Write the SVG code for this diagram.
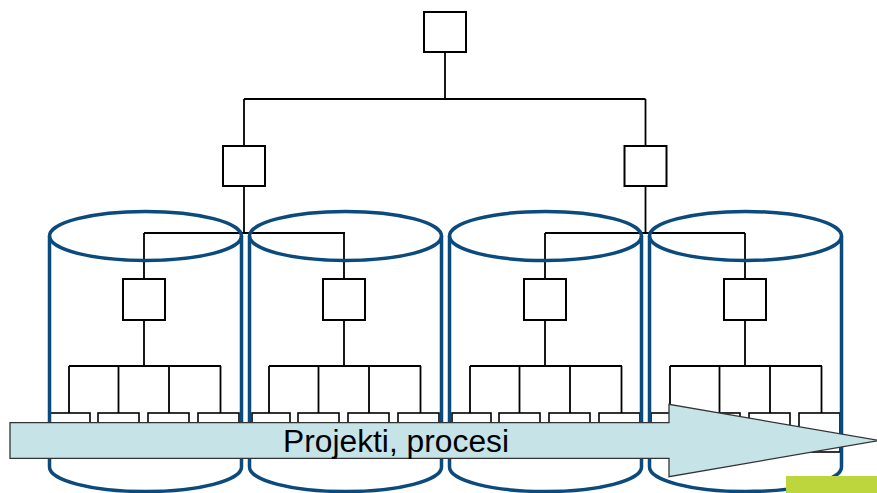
<svg xmlns="http://www.w3.org/2000/svg" width="877" height="493" viewBox="0 0 877 493">
<style>
.box{fill:#fff;stroke:#000;stroke-width:2}
.cb{fill:#fff;stroke:#000;stroke-width:1.6}
.cyl{fill:none;stroke:#0b4a7d;stroke-width:3.5}
.ln{fill:none;stroke:#000;stroke-width:1.8}
.arrow{fill:#c6e4e8;stroke:#333;stroke-width:1.3}
.lbl{font-family:"Liberation Sans",Arial,sans-serif;font-size:31px;fill:#000}
</style>
<rect width="877" height="493" fill="#fff"/>
<g id="connectors" class="ln">
<path d="M445,52V99M244,99H645.5M244,99V146M645.5,99V146M244,186V233M645.5,186V233M144,233H345M545,233H745"/>
<g id="c0"><path d="M144,233V279M144,320V366M69,366H221M69,366V413M118.5,366V413M169,366V413M220.5,366V413"/></g>
<g id="c1" transform="translate(200,0)"><path d="M144,233V279M144,320V366M69,366H221M69,366V413M118.5,366V413M169,366V413M220.5,366V413"/></g>
<g id="c2" transform="translate(401,0)"><path d="M144,233V279M144,320V366M69,366H221M69,366V413M118.5,366V413M169,366V413M220.5,366V413"/></g>
<g id="c3" transform="translate(601,0)"><path d="M144,233V279M144,320V366M69,366H221M69,366V413M118.5,366V413M169,366V413M220.5,366V413"/></g>
</g>
<g id="top"><rect class="box" x="424" y="12" width="42" height="40"/></g>
<g id="mid-left"><rect class="box" x="223" y="146" width="42" height="40"/></g>
<g id="mid-right"><rect class="box" x="624.5" y="146" width="42" height="40"/></g>
<g id="unit1">
<rect class="box" x="123" y="279" width="42" height="41"/>
<rect class="cb" x="50" y="413" width="40" height="39"/><rect class="cb" x="98" y="413" width="41" height="39"/><rect class="cb" x="148" y="413" width="41" height="39"/><rect class="cb" x="198" y="413" width="41" height="39"/>
</g>
<g id="unit2" transform="translate(200,0)">
<rect class="box" x="123" y="279" width="42" height="41"/>
<rect class="cb" x="52" y="413" width="38" height="39"/><rect class="cb" x="98" y="413" width="41" height="39"/><rect class="cb" x="148" y="413" width="41" height="39"/><rect class="cb" x="198" y="413" width="41" height="39"/>
</g>
<g id="unit3" transform="translate(401,0)">
<rect class="box" x="123" y="279" width="42" height="41"/>
<rect class="cb" x="51" y="413" width="39" height="39"/><rect class="cb" x="98" y="413" width="41" height="39"/><rect class="cb" x="148" y="413" width="41" height="39"/><rect class="cb" x="198" y="413" width="41" height="39"/>
</g>
<g id="unit4" transform="translate(601,0)">
<rect class="box" x="123" y="279" width="42" height="41"/>
<rect class="cb" x="50" y="413" width="40" height="39"/><rect class="cb" x="98" y="413" width="41" height="39"/><rect class="cb" x="148" y="413" width="41" height="39"/><rect class="cb" x="198" y="413" width="41" height="39"/>
</g>
<g id="cylinder1"><ellipse class="cyl" cx="145.5" cy="236" rx="96" ry="24.5"/><path class="cyl" d="M49.5,236V467A96,24.5 0 0 0 241.5,467V236"/></g>
<g id="cylinder2"><ellipse class="cyl" cx="345.5" cy="236" rx="96" ry="24.5"/><path class="cyl" d="M249.5,236V467A96,24.5 0 0 0 441.5,467V236"/></g>
<g id="cylinder3"><ellipse class="cyl" cx="545.5" cy="236" rx="96" ry="24.5"/><path class="cyl" d="M449.5,236V467A96,24.5 0 0 0 641.5,467V236"/></g>
<g id="cylinder4"><ellipse class="cyl" cx="745.5" cy="236" rx="96" ry="24.5"/><path class="cyl" d="M649.5,236V467A96,24.5 0 0 0 841.5,467V236"/></g>
<g id="arrow">
<polygon class="arrow" points="10,422.7 669,422.7 669,404.3 879,440.5 669,476.7 669,458.3 10,458.3"/>
<text class="lbl" x="283" y="451.7" textLength="226" lengthAdjust="spacingAndGlyphs">Projekti, procesi</text>
</g>
<rect id="green" x="786" y="476" width="91" height="17" fill="#bdd63e"/>
</svg>
